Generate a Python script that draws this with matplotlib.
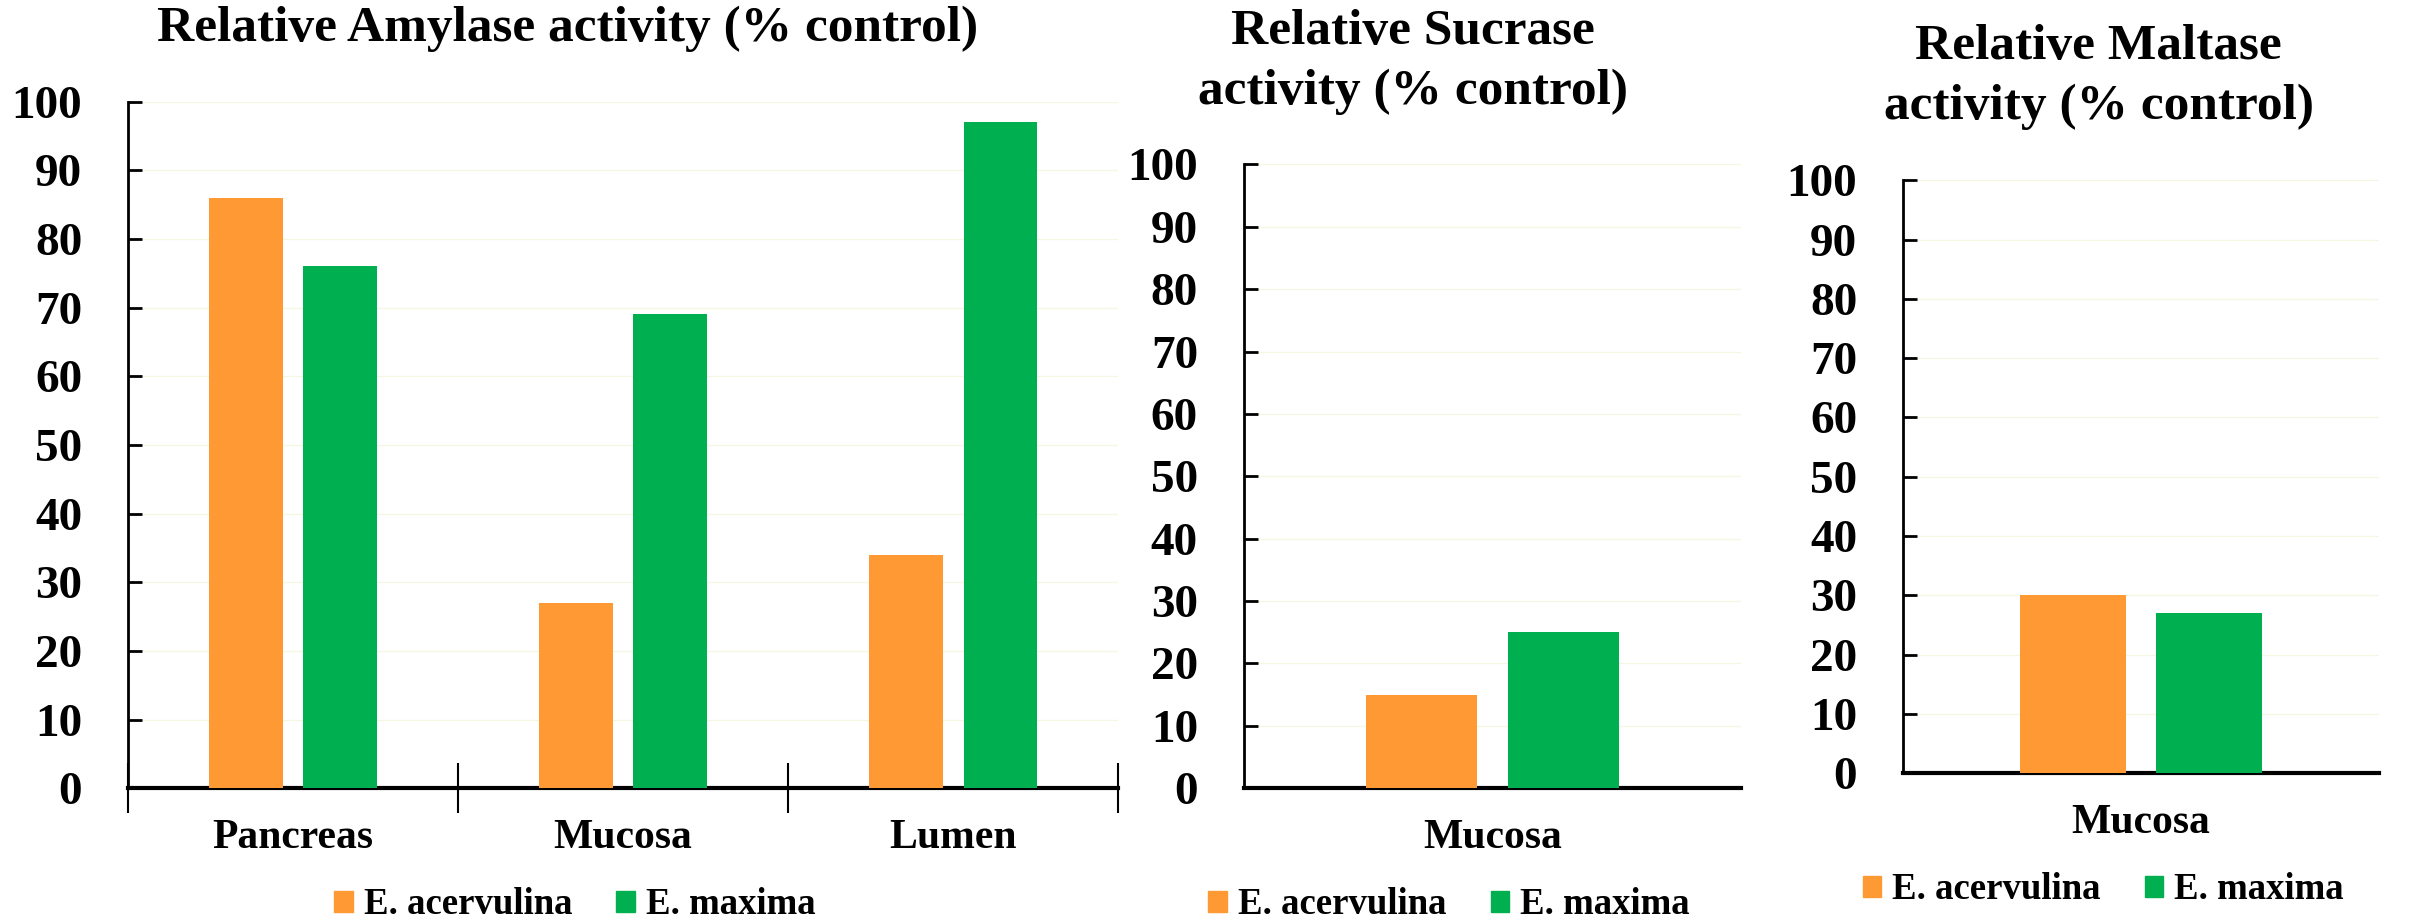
import matplotlib.pyplot as plt
from matplotlib.patches import Patch

plt.rcParams['font.family'] = ['Liberation Serif', 'DejaVu Serif']
plt.rcParams['font.weight'] = 'bold'

ORANGE = '#FF9933'
GREEN = '#00B050'

series = ['E. acervulina', 'E. maxima']

amylase_sites = ['Pancreas', 'Mucosa', 'Lumen']
amylase_acervulina = [86, 27, 34]
amylase_maxima = [76, 69, 97]

sucrase_sites = ['Mucosa']
sucrase_acervulina = [15]
sucrase_maxima = [25]

maltase_sites = ['Mucosa']
maltase_acervulina = [30]
maltase_maxima = [27]

fig = plt.figure(figsize=(24.15, 9.24), dpi=100)

panels = [
    # axes rect, title centre, title, data, legend centre
    ([0.053, 0.147, 0.410, 0.743], (0.235, 0.969), 'Relative Amylase activity (% control)',
     amylase_sites, amylase_acervulina, amylase_maxima, (0.238, 0.021)),
    ([0.515, 0.147, 0.206, 0.675], (0.585, 0.933), 'Relative Sucrase\nactivity (% control)',
     sucrase_sites, sucrase_acervulina, sucrase_maxima, (0.600, 0.021)),
    ([0.788, 0.163, 0.197, 0.642], (0.869, 0.917), 'Relative Maltase\nactivity (% control)',
     maltase_sites, maltase_acervulina, maltase_maxima, (0.871, 0.037)),
]

width = 0.223
offset = 0.143

for rect, tpos, title, sites, acerv, maxi, lpos in panels:
    ax = fig.add_axes(rect)
    xs = range(len(sites))
    ax.bar([x - offset for x in xs], acerv, width, color=ORANGE, zorder=3)
    ax.bar([x + offset for x in xs], maxi, width, color=GREEN, zorder=3)

    ax.set_xlim(-0.5, len(sites) - 0.5)
    ax.set_ylim(0, 100)
    ax.set_yticks(range(0, 101, 10))
    ax.yaxis.grid(True, color='#f6f6e4', linewidth=1, zorder=0)
    ax.tick_params(axis='y', direction='in', length=10, width=2, labelsize=34, pad=33)

    # category labels sit between the boundary ticks
    if len(sites) > 1:
        ax.set_xticks([x - 0.5 for x in range(len(sites) + 1)])
        ax.tick_params(axis='x', direction='inout', length=36, width=1.5, labelbottom=False)
    else:
        ax.set_xticks([])
    for i, s in enumerate(sites):
        ax.annotate(s, (i, 0), xytext=(0, -36), textcoords='offset points',
                    ha='center', va='center', fontsize=30, fontweight='bold')

    for side in ['top', 'right']:
        ax.spines[side].set_visible(False)
    ax.spines['left'].set_linewidth(2)
    ax.spines['bottom'].set_linewidth(3)

    fig.text(tpos[0], tpos[1], title, ha='center', va='center', fontsize=37,
             fontweight='bold', linespacing=1.38)

    handles = [Patch(color=ORANGE), Patch(color=GREEN)]
    fig.legend(handles, series, loc='center', bbox_to_anchor=lpos, ncol=2,
               frameon=False, fontsize=26.5, handlelength=0.5, handleheight=0.5,
               handletextpad=0.3, columnspacing=1.2, borderpad=0)

fig.savefig('out.png', dpi=100)
